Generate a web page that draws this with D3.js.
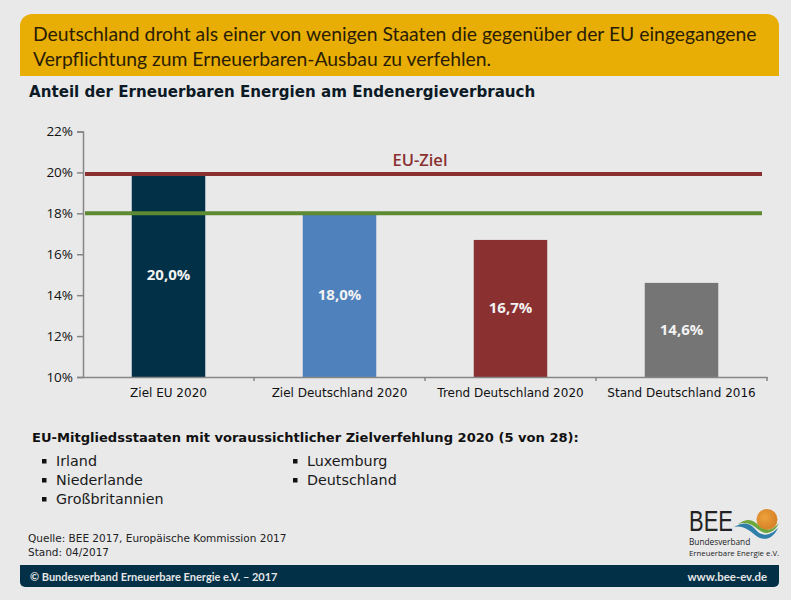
<!DOCTYPE html>
<html>
<head>
<meta charset="utf-8">
<script src="https://cdn.jsdelivr.net/npm/d3@7"></script>
<style>
  html, body { margin: 0; padding: 0; background: #e9e9ea; }
  svg { display: block; }
  text { font-family: "DejaVu Sans", sans-serif; }
  .axis path, .axis line { stroke: #868686; stroke-width: 1.5; }
  .axis text { fill: #111; }
</style>
</head>
<body>
<div id="chart"></div>
<script>
var categories = ['Ziel EU 2020', 'Ziel Deutschland 2020', 'Trend Deutschland 2020', 'Stand Deutschland 2016'];
var values = [20.0, 18.0, 16.7, 14.6];
var valueLabels = ['20,0%', '18,0%', '16,7%', '14,6%'];
var barColors = ['#023047', '#4f81bd', '#8a3030', '#757575'];
var yTicks = [10, 12, 14, 16, 18, 20, 22];
var euTarget = 20;
var deTarget = 18;
var headline = ['Deutschland droht als einer von wenigen Staaten die gegenüber der EU eingegangene',
  'Verpflichtung zum Erneuerbaren-Ausbau zu verfehlen.'];
var statesLeft = ['Irland', 'Niederlande', 'Großbritannien'];
var statesRight = ['Luxemburg', 'Deutschland'];

var width = 791, height = 600;
var svg = d3.select('#chart').append('svg').attr('width', width).attr('height', height);

// headline box, rounded on top left and top right only
svg.append('path')
  .attr('d', 'M20,76V26a12,12 0 0 1 12,-12H767a12,12 0 0 1 12,12V76Z')
  .attr('fill', '#e8ae06');
svg.selectAll('.headline').data(headline).enter().append('text')
  .attr('class', 'headline')
  .attr('x', 33)
  .attr('y', function(d, i) { return 41 + i * 25; })
  .attr('fill', '#2b1d05')
  .style('font-family', 'Lato, sans-serif')
  .attr('font-size', 19.33)
  .text(function(d) { return d; });

svg.append('text').attr('x', 29).attr('y', 97)
  .attr('font-size', 15.1).attr('font-weight', 'bold').attr('fill', '#0c1a26')
  .text('Anteil der Erneuerbaren Energien am Endenergieverbrauch');

// chart
var xScale = d3.scaleBand().domain(categories).range([83, 767]);
var yScale = d3.scaleLinear().domain([10, 22]).range([377, 131.5]);

var yAxis = svg.append('g').attr('class', 'axis')
  .attr('transform', 'translate(83,0)')
  .call(d3.axisLeft(yScale).tickValues(yTicks).tickSize(6).tickSizeOuter(6)
    .tickFormat(function(d) { return d + '%'; }));
yAxis.selectAll('text').attr('font-size', 13.5).attr('x', -10)
  .style('font-family', 'Open Sans, sans-serif');

var bars = svg.selectAll('.bar').data(categories).enter().append('rect')
  .attr('class', 'bar')
  .attr('x', function(d) { return xScale(d) + (xScale.bandwidth() - 73.5) / 2; })
  .attr('width', 73.5)
  .attr('y', function(d, i) { return yScale(values[i]); })
  .attr('height', function(d, i) { return yScale(10) - yScale(values[i]); })
  .attr('fill', function(d, i) { return barColors[i]; });

var xAxis = svg.append('g').attr('class', 'axis')
  .attr('transform', 'translate(0,' + yScale(10) + ')')
  .call(d3.axisBottom(xScale).tickSize(0).tickSizeOuter(0).tickPadding(11));
xAxis.selectAll('text').attr('font-size', 12);
// separators between the categories
xAxis.selectAll('.sep').data(categories).enter().append('line')
  .attr('class', 'sep')
  .attr('x1', function(d) { return xScale(d) + xScale.bandwidth(); })
  .attr('x2', function(d) { return xScale(d) + xScale.bandwidth(); })
  .attr('y1', 0).attr('y2', 4);

svg.selectAll('.bar-label').data(categories).enter().append('text')
  .attr('class', 'bar-label')
  .attr('x', function(d) { return xScale(d) + xScale.bandwidth() / 2; })
  .attr('y', function(d, i) { return (yScale(values[i]) + yScale(10)) / 2 + 5; })
  .attr('text-anchor', 'middle')
  .style('font-family', 'Open Sans, sans-serif')
  .attr('font-size', 15).attr('font-weight', 'bold').attr('fill', '#f2f2f2')
  .text(function(d, i) { return valueLabels[i]; });

// target lines, the red one sits a little below its tick in the original
svg.append('line').attr('x1', 85).attr('x2', 762)
  .attr('y1', yScale(euTarget) + 1.5).attr('y2', yScale(euTarget) + 1.5)
  .attr('stroke', '#8a3030').attr('stroke-width', 4);
svg.append('line').attr('x1', 85).attr('x2', 762)
  .attr('y1', yScale(deTarget)).attr('y2', yScale(deTarget))
  .attr('stroke', '#5d8a33').attr('stroke-width', 4);
svg.append('text').attr('x', 420).attr('y', 166)
  .attr('text-anchor', 'middle').attr('font-size', 16.5).attr('font-weight', 600)
  .style('font-family', 'Open Sans, sans-serif')
  .attr('fill', '#8a3030').text('EU-Ziel');

// member states
svg.append('text').attr('x', 32).attr('y', 442)
  .attr('font-size', 13.07).attr('font-weight', 'bold').attr('fill', '#111')
  .text('EU-Mitgliedsstaaten mit voraussichtlicher Zielverfehlung 2020 (5 von 28):');

function stateList(names, x) {
  var g = svg.append('g');
  g.selectAll('rect').data(names).enter().append('rect')
    .attr('x', x).attr('y', function(d, i) { return 459 + i * 19; })
    .attr('width', 4.5).attr('height', 4.5).attr('fill', '#111');
  g.selectAll('text').data(names).enter().append('text')
    .attr('x', x + 14).attr('y', function(d, i) { return 466 + i * 19; })
    .attr('font-size', 14.3).attr('fill', '#1a1a1a')
    .text(function(d) { return d; });
}
stateList(statesLeft, 42);
stateList(statesRight, 293);

// source
svg.append('text').attr('x', 28).attr('y', 542).attr('font-size', 10.5).attr('fill', '#222')
  .text('Quelle: BEE 2017, Europäische Kommission 2017');
svg.append('text').attr('x', 28).attr('y', 556).attr('font-size', 10.5).attr('fill', '#222')
  .text('Stand: 04/2017');

// footer bar
svg.append('path')
  .attr('d', 'M20,565H779V582a5,5 0 0 1 -5,5H25a5,5 0 0 1 -5,-5Z')
  .attr('fill', '#023047');
svg.append('text').attr('x', 30).attr('y', 581).attr('font-size', 11).attr('fill', '#e6e6e6')
  .style('font-family', 'Lato, sans-serif').attr('font-weight', 'bold')
  .text('© Bundesverband Erneuerbare Energie e.V. – 2017');
svg.append('text').attr('x', 767).attr('y', 581).attr('text-anchor', 'end')
  .attr('font-size', 11.4).attr('font-weight', 'bold').attr('fill', '#e6e6e6')
  .style('font-family', 'Lato, sans-serif')
  .text('www.bee-ev.de');

// BEE logo
var defs = svg.append('defs');
var sun = defs.append('radialGradient').attr('id', 'sun').attr('cx', '40%').attr('cy', '40%');
sun.append('stop').attr('offset', '0%').attr('stop-color', '#eea23c');
sun.append('stop').attr('offset', '100%').attr('stop-color', '#d9862a');
svg.append('circle').attr('cx', 767).attr('cy', 519.5).attr('r', 10.5).attr('fill', 'url(#sun)');
svg.append('path').attr('d', 'M734,527C745,521 750,523 756,530C761,536 769,537 778,528C772,541 762,541 755,535C748,529 742,525 734,527Z')
  .attr('fill', '#2f7fa8');
svg.append('path').attr('d', 'M738,524C748,517 754,520 759,526C764,531 771,532 779,523C774,534 765,535 759,530C753,525 747,521 738,524Z')
  .attr('fill', '#6da63b');
svg.append('text').attr('x', 689).attr('y', 531)
  .style('font-family', 'Liberation Sans, sans-serif')
  .attr('font-size', 29).attr('fill', '#222')
  .attr('textLength', 44).attr('lengthAdjust', 'spacingAndGlyphs').text('BEE');
svg.append('text').attr('x', 689).attr('y', 545).attr('font-size', 8.3)
  .style('font-family', 'Open Sans, sans-serif').attr('fill', '#222').text('Bundesverband');
svg.append('text').attr('x', 689).attr('y', 556).attr('font-size', 7.8)
  .style('font-family', 'Open Sans, sans-serif').attr('fill', '#222').text('Erneuerbare Energie e.V.');
</script>
</body>
</html>
